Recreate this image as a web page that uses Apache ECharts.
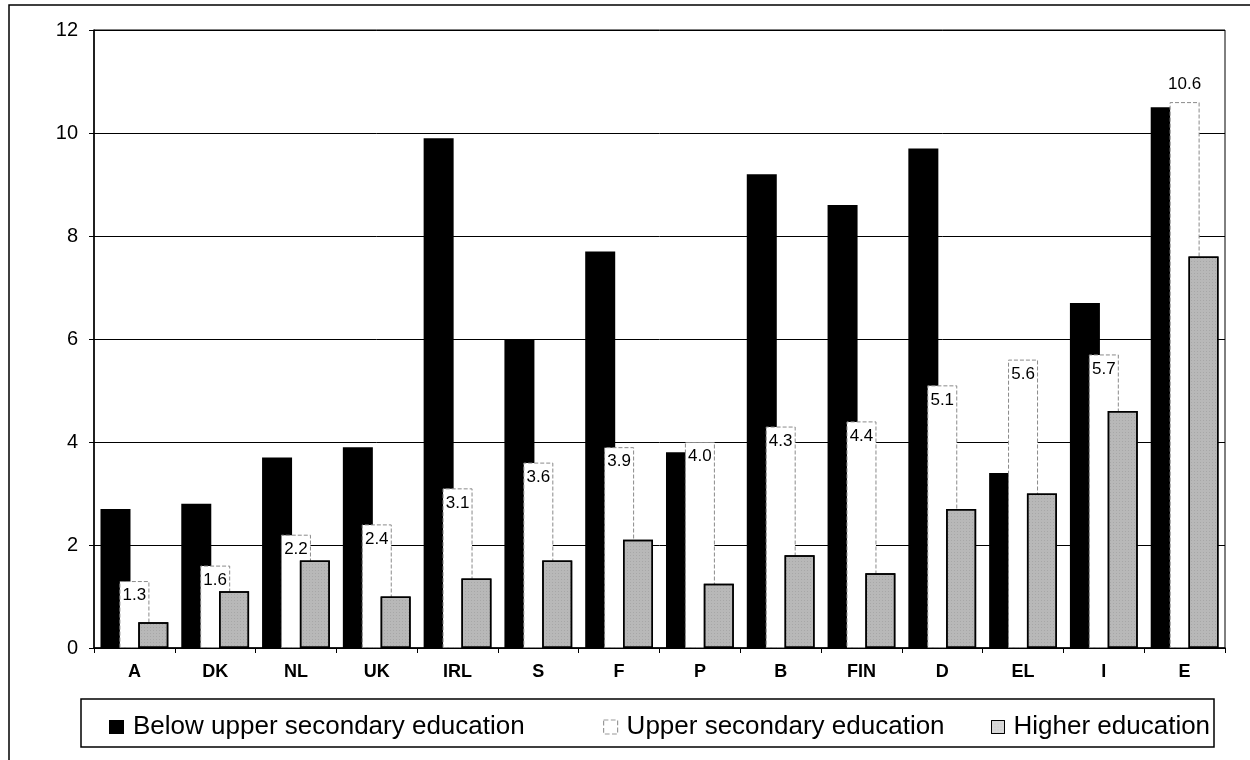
<!DOCTYPE html>
<html>
<head>
<meta charset="utf-8">
<script src="https://cdn.jsdelivr.net/npm/echarts@6/dist/echarts.min.js"></script>
<style>
html,body{margin:0;padding:0;background:#fff;}
#chart{width:1250px;height:760px;}
</style>
</head>
<body>
<div id="chart"></div>
<script>
const categories = ['A','DK','NL','UK','IRL','S','F','P','B','FIN','D','EL','I','E'];
const belowUpperSecondary = [2.7, 2.8, 3.7, 3.9, 9.9, 6.0, 7.7, 3.8, 9.2, 8.6, 9.7, 3.4, 6.7, 10.5];
const upperSecondary = [1.3, 1.6, 2.2, 2.4, 3.1, 3.6, 3.9, 4.0, 4.3, 4.4, 5.1, 5.6, 5.7, 10.6];
const higherEducation = [0.5, 1.1, 1.7, 1.0, 1.35, 1.7, 2.1, 1.25, 1.8, 1.45, 2.7, 3.0, 4.6, 7.6];
const yTicks = [0, 2, 4, 6, 8, 10, 12];
const seriesNames = ['Below upper secondary education', 'Upper secondary education', 'Higher education'];

const FONT = "'Liberation Sans', Arial, sans-serif";
const chart = echarts.init(document.getElementById('chart'), null, {renderer: 'canvas'});

const upperData = upperSecondary.map((v, i) => {
  const last = i === upperSecondary.length - 1;
  return {
    value: v,
    label: last ? {position: 'top', distance: 9} : {position: 'insideTop', distance: 6}
  };
});

const legendText = {fontFamily: FONT, fontSize: 26, color: '#000', padding: [0, 0, 0, 4], lineHeight: 28};

const option = {
  animation: false,
  backgroundColor: '#fff',
  textStyle: {fontFamily: FONT},
  grid: {left: 94, right: 25, top: 30, bottom: 112, show: true, borderColor: '#000', borderWidth: 1, containLabel: false},
  xAxis: {
    type: 'category',
    data: categories,
    axisLine: {lineStyle: {color: '#000', width: 1.5}},
    axisTick: {show: true, length: 5, lineStyle: {color: '#000'}},
    axisLabel: {color: '#000', fontFamily: FONT, fontSize: 18, fontWeight: 'bold', margin: 15}
  },
  yAxis: {
    type: 'value',
    min: yTicks[0],
    max: yTicks[yTicks.length - 1],
    interval: yTicks[1] - yTicks[0],
    axisLine: {show: true, lineStyle: {color: '#000', width: 1.5}},
    axisTick: {show: true, length: 5, lineStyle: {color: '#000'}},
    splitLine: {show: true, lineStyle: {color: '#000', width: 1}},
    axisLabel: {color: '#000', fontFamily: FONT, fontSize: 20, margin: 16}
  },
  legend: [
    {data: [{name: seriesNames[0], icon: 'rect'}], left: 104, top: 708, itemWidth: 15, itemHeight: 14, textStyle: legendText},
    {data: [{name: seriesNames[1], icon: 'rect', itemStyle: {color: '#fff', borderColor: '#999', borderWidth: 1.2, borderType: 'dashed'}}], left: 598, top: 708, itemWidth: 14, itemHeight: 14, textStyle: legendText},
    {data: [{name: seriesNames[2], icon: 'rect', itemStyle: {color: '#d8d8d8', borderColor: '#000', borderWidth: 1}}], left: 986, top: 708, itemWidth: 13, itemHeight: 13, textStyle: legendText}
  ],
  graphic: [
    {type: 'rect', shape: {x: 9, y: 5, width: 1400, height: 900}, style: {fill: 'none', stroke: '#000', lineWidth: 1.5}, silent: true},
    {type: 'rect', shape: {x: 81, y: 699, width: 1133, height: 48}, style: {fill: 'none', stroke: '#000', lineWidth: 1.5}, silent: true}
  ],
  series: [
    {
      name: seriesNames[0], type: 'bar', data: belowUpperSecondary,
      barWidth: 30, barGap: '-37%',
      itemStyle: {color: '#000'}
    },
    {
      name: seriesNames[1], type: 'bar', data: upperData,
      barWidth: 30, barGap: '-37%',
      itemStyle: {color: '#fff', borderColor: '#8a8a8a', borderWidth: 1, borderType: 'dashed'},
      label: {show: true, color: '#000', fontFamily: FONT, fontSize: 17, formatter: p => p.value.toFixed(1)}
    },
    {
      name: seriesNames[2], type: 'bar', data: higherEducation,
      barWidth: 30, barGap: '-37%',
      itemStyle: {
        color: '#b8b8b8', borderColor: '#000', borderWidth: 1.5,
        decal: {symbol: 'rect', symbolSize: 0.6, dashArrayX: [1, 2], dashArrayY: [1, 2], color: 'rgba(60,60,60,0.45)', rotation: 0}
      }
    }
  ]
};
chart.setOption(option);
</script>
</body>
</html>
